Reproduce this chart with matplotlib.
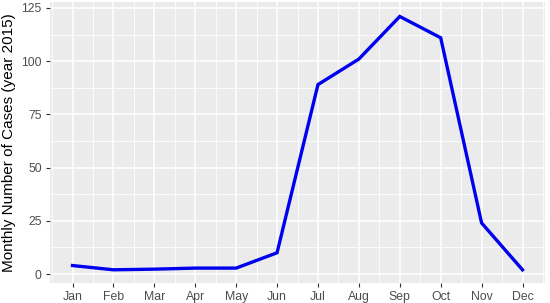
import numpy as np
import matplotlib
matplotlib.use("Agg")
import matplotlib.pyplot as plt
from matplotlib.ticker import MultipleLocator

months = ["Jan", "Feb", "Mar", "Apr", "May", "Jun", "Jul", "Aug", "Sep", "Oct", "Nov", "Dec"]
month_num = list(range(1, 13))
cases = [4, 2, 2.3, 2.8, 2.8, 10, 89, 101, 121, 111, 24, 2]

plt.rcParams['font.family'] = ['Liberation Sans', 'DejaVu Sans']

fig = plt.figure(figsize=(5.5, 3.03), dpi=100)
ax = fig.add_axes([50 / 550, 1 - 283 / 303, 495 / 550, 281 / 303])
ax.set_facecolor('#EBEBEB')

ax.plot(month_num, cases, color='#0000EE', linewidth=2.4, solid_joinstyle='miter', zorder=3)

ax.set_xlim(0.45, 12.55)
ax.set_ylim(-4.2, 127.8)
ax.set_xticks(month_num)
ax.set_xticklabels(months)
ax.xaxis.set_minor_locator(MultipleLocator(0.5))
ax.set_yticks([0, 25, 50, 75, 100, 125])
ax.yaxis.set_minor_locator(MultipleLocator(12.5))

ax.grid(which='major', color='white', linewidth=1.1)
ax.grid(which='minor', color='white', linewidth=0.55)
ax.set_axisbelow(True)
for s in ax.spines.values():
    s.set_visible(False)

ax.tick_params(which='major', length=3, width=0.8, color='#333333',
               labelsize=8.8, labelcolor='#4D4D4D', pad=3)
ax.tick_params(which='minor', length=0)

ax.set_ylabel('Monthly Number of Cases (year 2015)', fontsize=11, labelpad=4)

fig.savefig('out.png', dpi=100)
